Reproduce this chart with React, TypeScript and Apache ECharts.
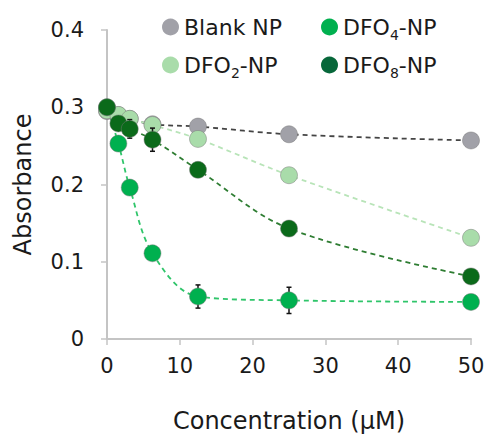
import React, { useEffect, useRef } from "react";
import * as echarts from "echarts";

const xs = [0, 1.5625, 3.125, 6.25, 12.5, 25, 50];
const blank = [0.295, 0.29, 0.285, 0.278, 0.275, 0.265, 0.257];
const dfo2 = [0.296, 0.29, 0.285, 0.277, 0.259, 0.212, 0.131];
const dfo4 = [0.3, 0.253, 0.196, 0.111, 0.055, 0.05, 0.048];
const dfo8 = [0.3, 0.279, 0.272, 0.258, 0.219, 0.143, 0.081];
const err2 = [0, 0.004, 0.004, 0.004, 0.004, 0.006, 0.007];
const err4 = [0, 0.004, 0.004, 0.008, 0.015, 0.017, 0.004];
const err8 = [0, 0.004, 0.012, 0.015, 0.004, 0.004, 0.004];
const errBlank = [0, 0, 0, 0, 0.004, 0.004, 0.003];
const yTicks = [0, 0.1, 0.2, 0.3, 0.4];
const xTicks = [0, 10, 20, 30, 40, 50];

const names = ["Blank NP", "DFO2-NP", "DFO4-NP", "DFO8-NP"];
const fills = ["#a1a1a8", "#a9dcaa", "#00b04f", "#0b6a1a"];
const legendFills = ["#a1a1a8", "#a9dcaa", "#00b04f", "#07673a"];
const lineColors = ["#444444", "#b8e4b8", "#2fc56a", "#2e7d32"];
const values = [blank, dfo2, dfo4, dfo8];
const errs = [errBlank, err2, err4, err8];

export default function App() {
  const ref = useRef<HTMLDivElement>(null);
  useEffect(() => {
    const chart = echarts.init(ref.current!, undefined, { renderer: "svg" });
    const font = "DejaVu Sans, sans-serif";
    const series: any[] = [];
    values.forEach((vals, i) => {
      series.push({
        type: "line",
        name: names[i] + "_line",
        data: xs.map((x, j) => [x, vals[j]]),
        smooth: 0.35,
        showSymbol: false,
        symbol: "none",
        lineStyle: { color: lineColors[i], width: 1.8, type: [5, 4] },
        z: 2 + i,
        silent: true,
      });
    });
    values.forEach((vals, i) => {
      series.push({
        type: "custom",
        name: names[i] + "_err",
        data: xs.map((x, j) => [x, vals[j], errs[i][j]]),
        renderItem: (params: any, api: any) => {
          const x = api.value(0);
          const y = api.value(1);
          const e = api.value(2);
          if (!e) return null;
          const top = api.coord([x, y + e]);
          const bot = api.coord([x, y - e]);
          const style = { stroke: "#111", lineWidth: 1.5 };
          return {
            type: "group",
            children: [
              { type: "line", shape: { x1: top[0], y1: top[1], x2: bot[0], y2: bot[1] }, style },
              { type: "line", shape: { x1: top[0] - 2.5, y1: top[1], x2: top[0] + 2.5, y2: top[1] }, style },
              { type: "line", shape: { x1: bot[0] - 2.5, y1: bot[1], x2: bot[0] + 2.5, y2: bot[1] }, style },
            ],
          };
        },
        z: 6 + i * 2,
        silent: true,
      });
      series.push({
        type: "scatter",
        name: names[i],
        data: xs.map((x, j) => [x, vals[j]]),
        symbol: "circle",
        symbolSize: 17,
        itemStyle: { color: fills[i], borderColor: "rgba(120,120,120,0.6)", borderWidth: 0.8, opacity: 1 },
        z: 7 + i * 2,
        silent: true,
      });
    });

    const legendFormatter = (name: string) => {
      if (name === "Blank NP") return "{a|Blank NP}{s| }";
      const m = name.match(/DFO(\d)-NP/);
      return "{a|DFO}{s|" + (m ? m[1] : "") + "}{a|-NP}";
    };
    const rich = {
      a: { fontSize: 22, fontFamily: font, color: "#1a1a1a", lineHeight: 24 },
      s: { fontSize: 14, fontFamily: font, color: "#1a1a1a", lineHeight: 8, padding: [16, 0, 0, 0] },
    };
    const legendBase = {
      orient: "vertical",
      top: 7,
      itemGap: 8,
      itemWidth: 17,
      itemHeight: 17,
      icon: "circle",
      formatter: legendFormatter,
      textStyle: { rich },
      selectedMode: false,
    };

    chart.setOption({
      animation: false,
      backgroundColor: "#ffffff",
      grid: { left: 107, right: 18, top: 30, bottom: 95, outerBoundsMode: "none", containLabel: false },
      legend: [
        {
          ...legendBase,
          data: [
            { name: "Blank NP", itemStyle: { color: legendFills[0], borderWidth: 0 } },
            { name: "DFO2-NP", itemStyle: { color: legendFills[1], borderWidth: 0 } },
          ],
          left: 157,
        },
        {
          ...legendBase,
          data: [
            { name: "DFO4-NP", itemStyle: { color: legendFills[2], borderWidth: 0 } },
            { name: "DFO8-NP", itemStyle: { color: legendFills[3], borderWidth: 0 } },
          ],
          left: 316,
        },
      ],
      xAxis: {
        type: "value",
        min: 0,
        max: 50,
        interval: 10,
        name: "Concentration (μM)",
        nameLocation: "middle",
        nameGap: 70,
        nameTextStyle: { fontSize: 24, fontFamily: font, color: "#1a1a1a" },
        axisLine: { lineStyle: { color: "#c4c4c4", width: 2 } },
        axisTick: { show: true, length: 6, lineStyle: { color: "#c4c4c4", width: 1.5 } },
        axisLabel: {
          fontSize: 21,
          fontFamily: font,
          color: "#1a1a1a",
          margin: 16,
          formatter: (v: number) => (xTicks.includes(v) ? String(v) : ""),
        },
        splitLine: { show: false },
      },
      yAxis: {
        type: "value",
        min: 0,
        max: 0.4,
        interval: 0.1,
        name: "Absorbance",
        nameLocation: "middle",
        nameGap: 72,
        nameTextStyle: { fontSize: 24, fontFamily: font, color: "#1a1a1a" },
        axisLine: { show: true, lineStyle: { color: "#c4c4c4", width: 2 } },
        axisTick: { show: true, length: 6, lineStyle: { color: "#c4c4c4", width: 1.5 } },
        axisLabel: {
          fontSize: 21,
          fontFamily: font,
          color: "#1a1a1a",
          margin: 23,
          formatter: (v: number) => {
            const t = yTicks.find((k) => Math.abs(k - v) < 1e-9);
            return t === undefined ? "" : t === 0 ? "0" : t.toFixed(1);
          },
        },
        splitLine: { show: false },
      },
      series,
    });
    return () => chart.dispose();
  }, []);
  return <div ref={ref} style={{ width: 489, height: 434, position: "absolute", left: 0, top: 0 }} />;
}
